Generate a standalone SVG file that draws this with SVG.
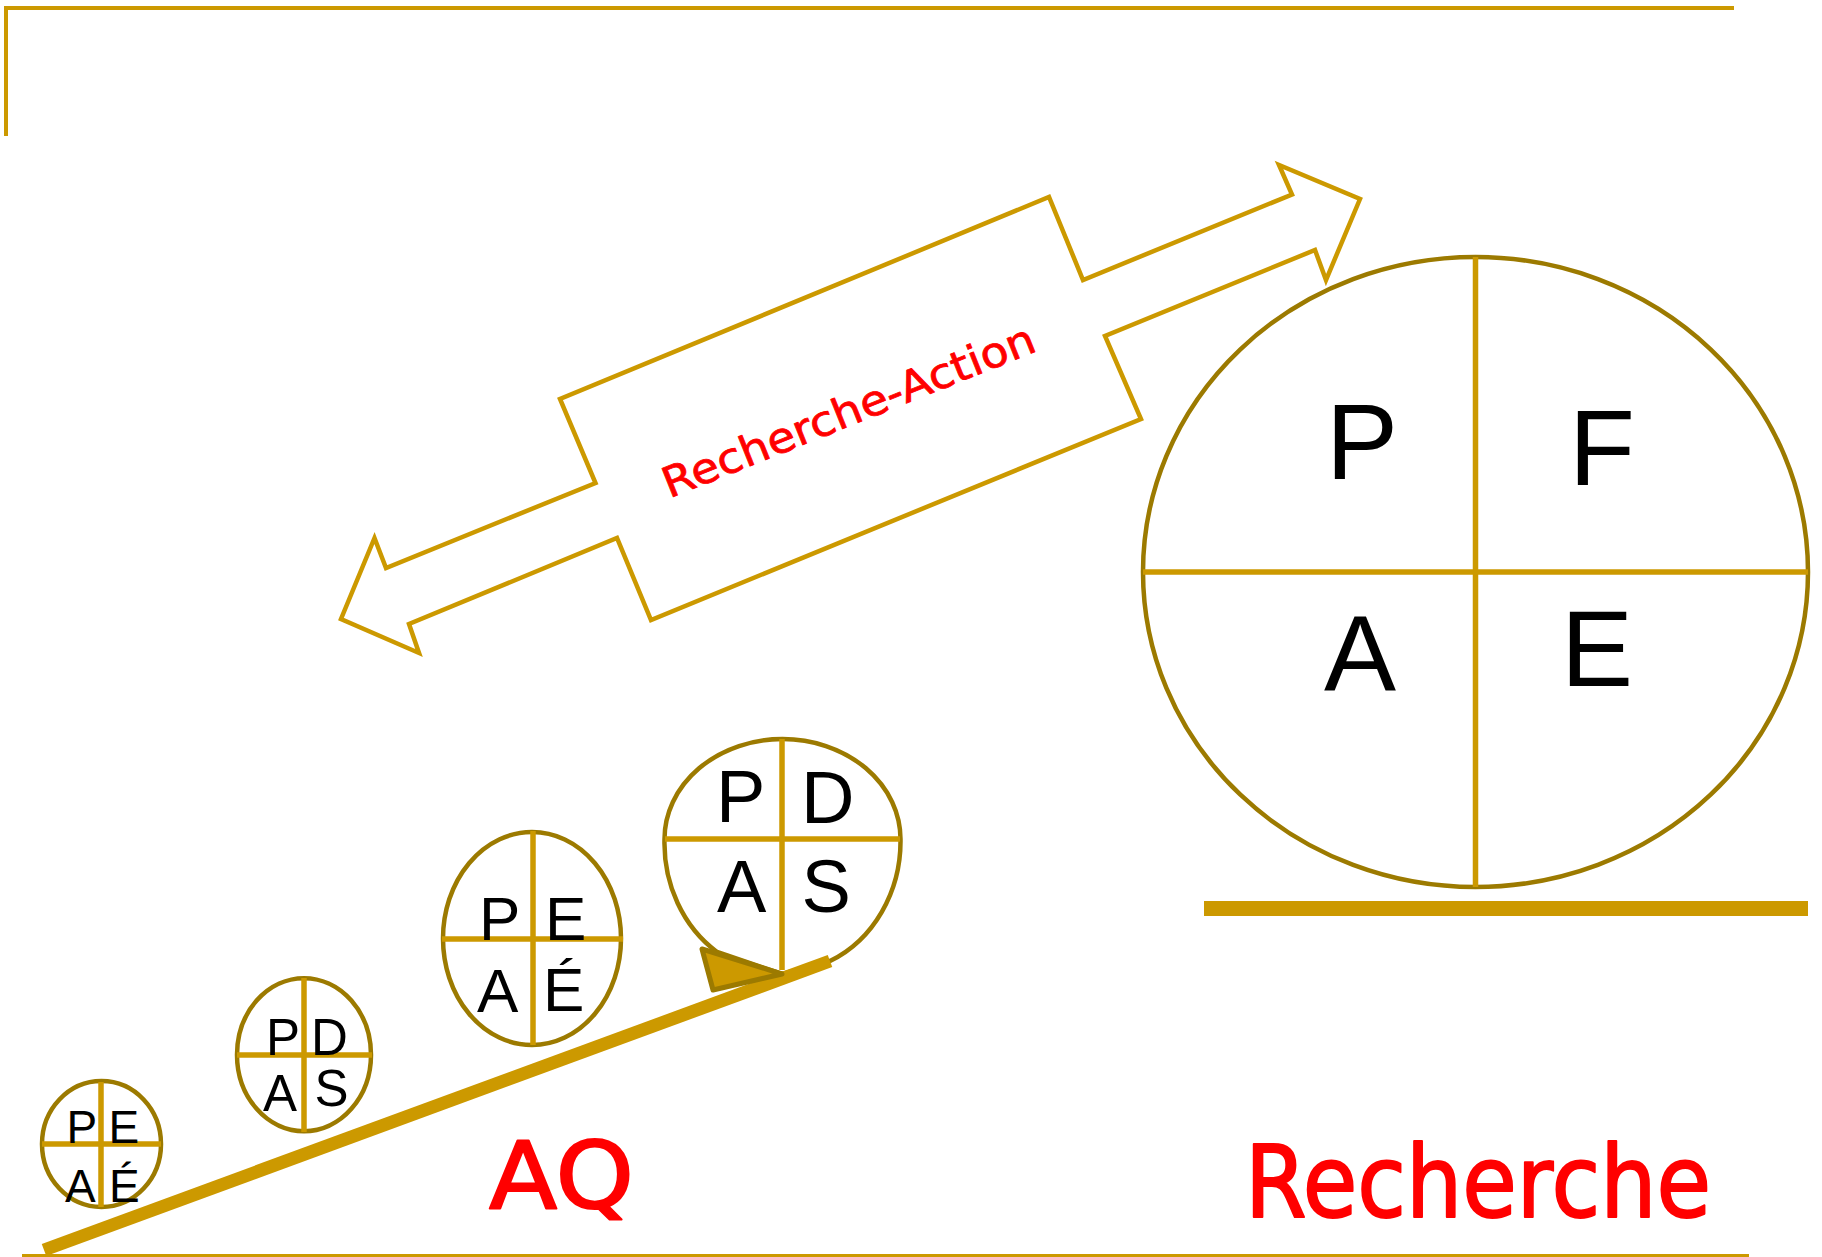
<svg xmlns="http://www.w3.org/2000/svg" width="1822" height="1257" viewBox="0 0 1822 1257">
<style>
.rim{fill:#fff;stroke:#9C7A00;stroke-width:4.5}
.cross{stroke:#CC9900;stroke-width:5.5;fill:none}
.gold{stroke:#CC9900;fill:none}
.lt{font-family:"Liberation Sans",Arial,sans-serif;fill:#000}
.hand{font-family:"Comic Sans MS","DejaVu Sans",sans-serif;fill:#FF0000;stroke:#FF0000;stroke-linejoin:round}
</style>
<rect width="1822" height="1257" fill="#fff"/>
<g id="frame">
<line class="gold" x1="4" y1="8" x2="1734" y2="8" stroke-width="4"/>
<line class="gold" x1="6" y1="8" x2="6" y2="136" stroke-width="4"/>
<line class="gold" x1="22" y1="1255.5" x2="1749" y2="1255.5" stroke-width="3"/>
</g>
<g id="recherche-action">
<polygon points="1360,199 1326,280 1315,250 1105,336 1141,419 651,620 617,538 409,624 419,653 341,619 374.5,538 386,568 595.5,483 560,399 1049,197 1083,280 1292,194.5 1279,165" fill="#fff" stroke="#CC9900" stroke-width="4.5" stroke-linejoin="miter"/>
<text class="hand" x="854" y="424.5" font-size="42" stroke-width="0.8" text-anchor="middle" textLength="398" lengthAdjust="spacingAndGlyphs" transform="rotate(-21.85 854 424.5)">Recherche-Action</text>
</g>
<g id="big-cycle">
<ellipse class="rim" cx="1475.5" cy="572" rx="332.5" ry="315"/>
<line class="cross" x1="1475.5" y1="257" x2="1475.5" y2="887" stroke-width="6"/>
<line class="cross" x1="1143" y1="572" x2="1808" y2="572" stroke-width="6"/>
<text class="lt" x="1326" y="479" font-size="108">P</text>
<text class="lt" x="1569" y="485" font-size="108">F</text>
<text class="lt" x="1324" y="691" font-size="108">A</text>
<text class="lt" x="1561" y="686" font-size="108">E</text>
</g>
<g id="ground">
<line class="gold" x1="1204" y1="908.5" x2="1808" y2="908.5" stroke-width="15"/>
</g>
<g id="cycle1">
<ellipse class="rim" cx="101.5" cy="1144" rx="59.5" ry="63"/>
<line class="cross" x1="101" y1="1082" x2="101" y2="1207"/>
<line class="cross" x1="42" y1="1144" x2="161" y2="1144"/>
<text class="lt" x="66.5" y="1143" font-size="46">P</text>
<text class="lt" x="108.5" y="1143" font-size="46">E</text>
<text class="lt" x="65" y="1202" font-size="46">A</text>
<text class="lt" x="109" y="1202" font-size="46">É</text>
</g>
<g id="cycle2">
<ellipse class="rim" cx="304" cy="1054.7" rx="67" ry="76.5"/>
<line class="cross" x1="304" y1="978" x2="304" y2="1132"/>
<line class="cross" x1="237" y1="1055" x2="372" y2="1055"/>
<text class="lt" x="266" y="1055" font-size="51">P</text>
<text class="lt" x="311" y="1055" font-size="51">D</text>
<text class="lt" x="263" y="1111" font-size="51">A</text>
<text class="lt" x="314.5" y="1106" font-size="51">S</text>
</g>
<g id="cycle3">
<ellipse class="rim" cx="532" cy="938.5" rx="89" ry="106.5"/>
<line class="cross" x1="533" y1="831" x2="533" y2="1045"/>
<line class="cross" x1="442" y1="939" x2="623" y2="939"/>
<text class="lt" x="479" y="940" font-size="62">P</text>
<text class="lt" x="545" y="940" font-size="62">E</text>
<text class="lt" x="477" y="1012" font-size="62">A</text>
<text class="lt" x="543" y="1011" font-size="62">É</text>
</g>
<g id="cycle4">
<path class="rim" d="M664.5,839 A118,100 0 0 1 900.5,839 A118,131 0 0 1 830,961 L782,974 L717,952 A118,131 0 0 1 664.5,839 Z"/>
<line class="cross" x1="782" y1="739" x2="782" y2="970" stroke-width="6"/>
<line class="cross" x1="665" y1="839" x2="900" y2="839" stroke-width="6"/>
<text class="lt" x="716" y="822" font-size="74">P</text>
<text class="lt" x="801" y="823" font-size="74">D</text>
<text class="lt" x="717" y="912" font-size="74">A</text>
<text class="lt" x="801.5" y="912" font-size="74">S</text>
</g>
<g id="connectors">
<line id="ramp" x1="44" y1="1250" x2="830" y2="961" stroke="#CC9900" stroke-width="13"/>
<polygon id="wedge" points="702,949 713,990 782,974" fill="#CC9900" stroke="#9C7A00" stroke-width="5" stroke-linejoin="round"/>
</g>
<g id="labels">
<text class="hand" x="489" y="1208" font-size="93" stroke-width="2" textLength="145" lengthAdjust="spacingAndGlyphs">AQ</text>
<text class="hand" x="1245" y="1217" font-size="99" stroke-width="2" textLength="466" lengthAdjust="spacingAndGlyphs">Recherche</text>
</g>
</svg>
